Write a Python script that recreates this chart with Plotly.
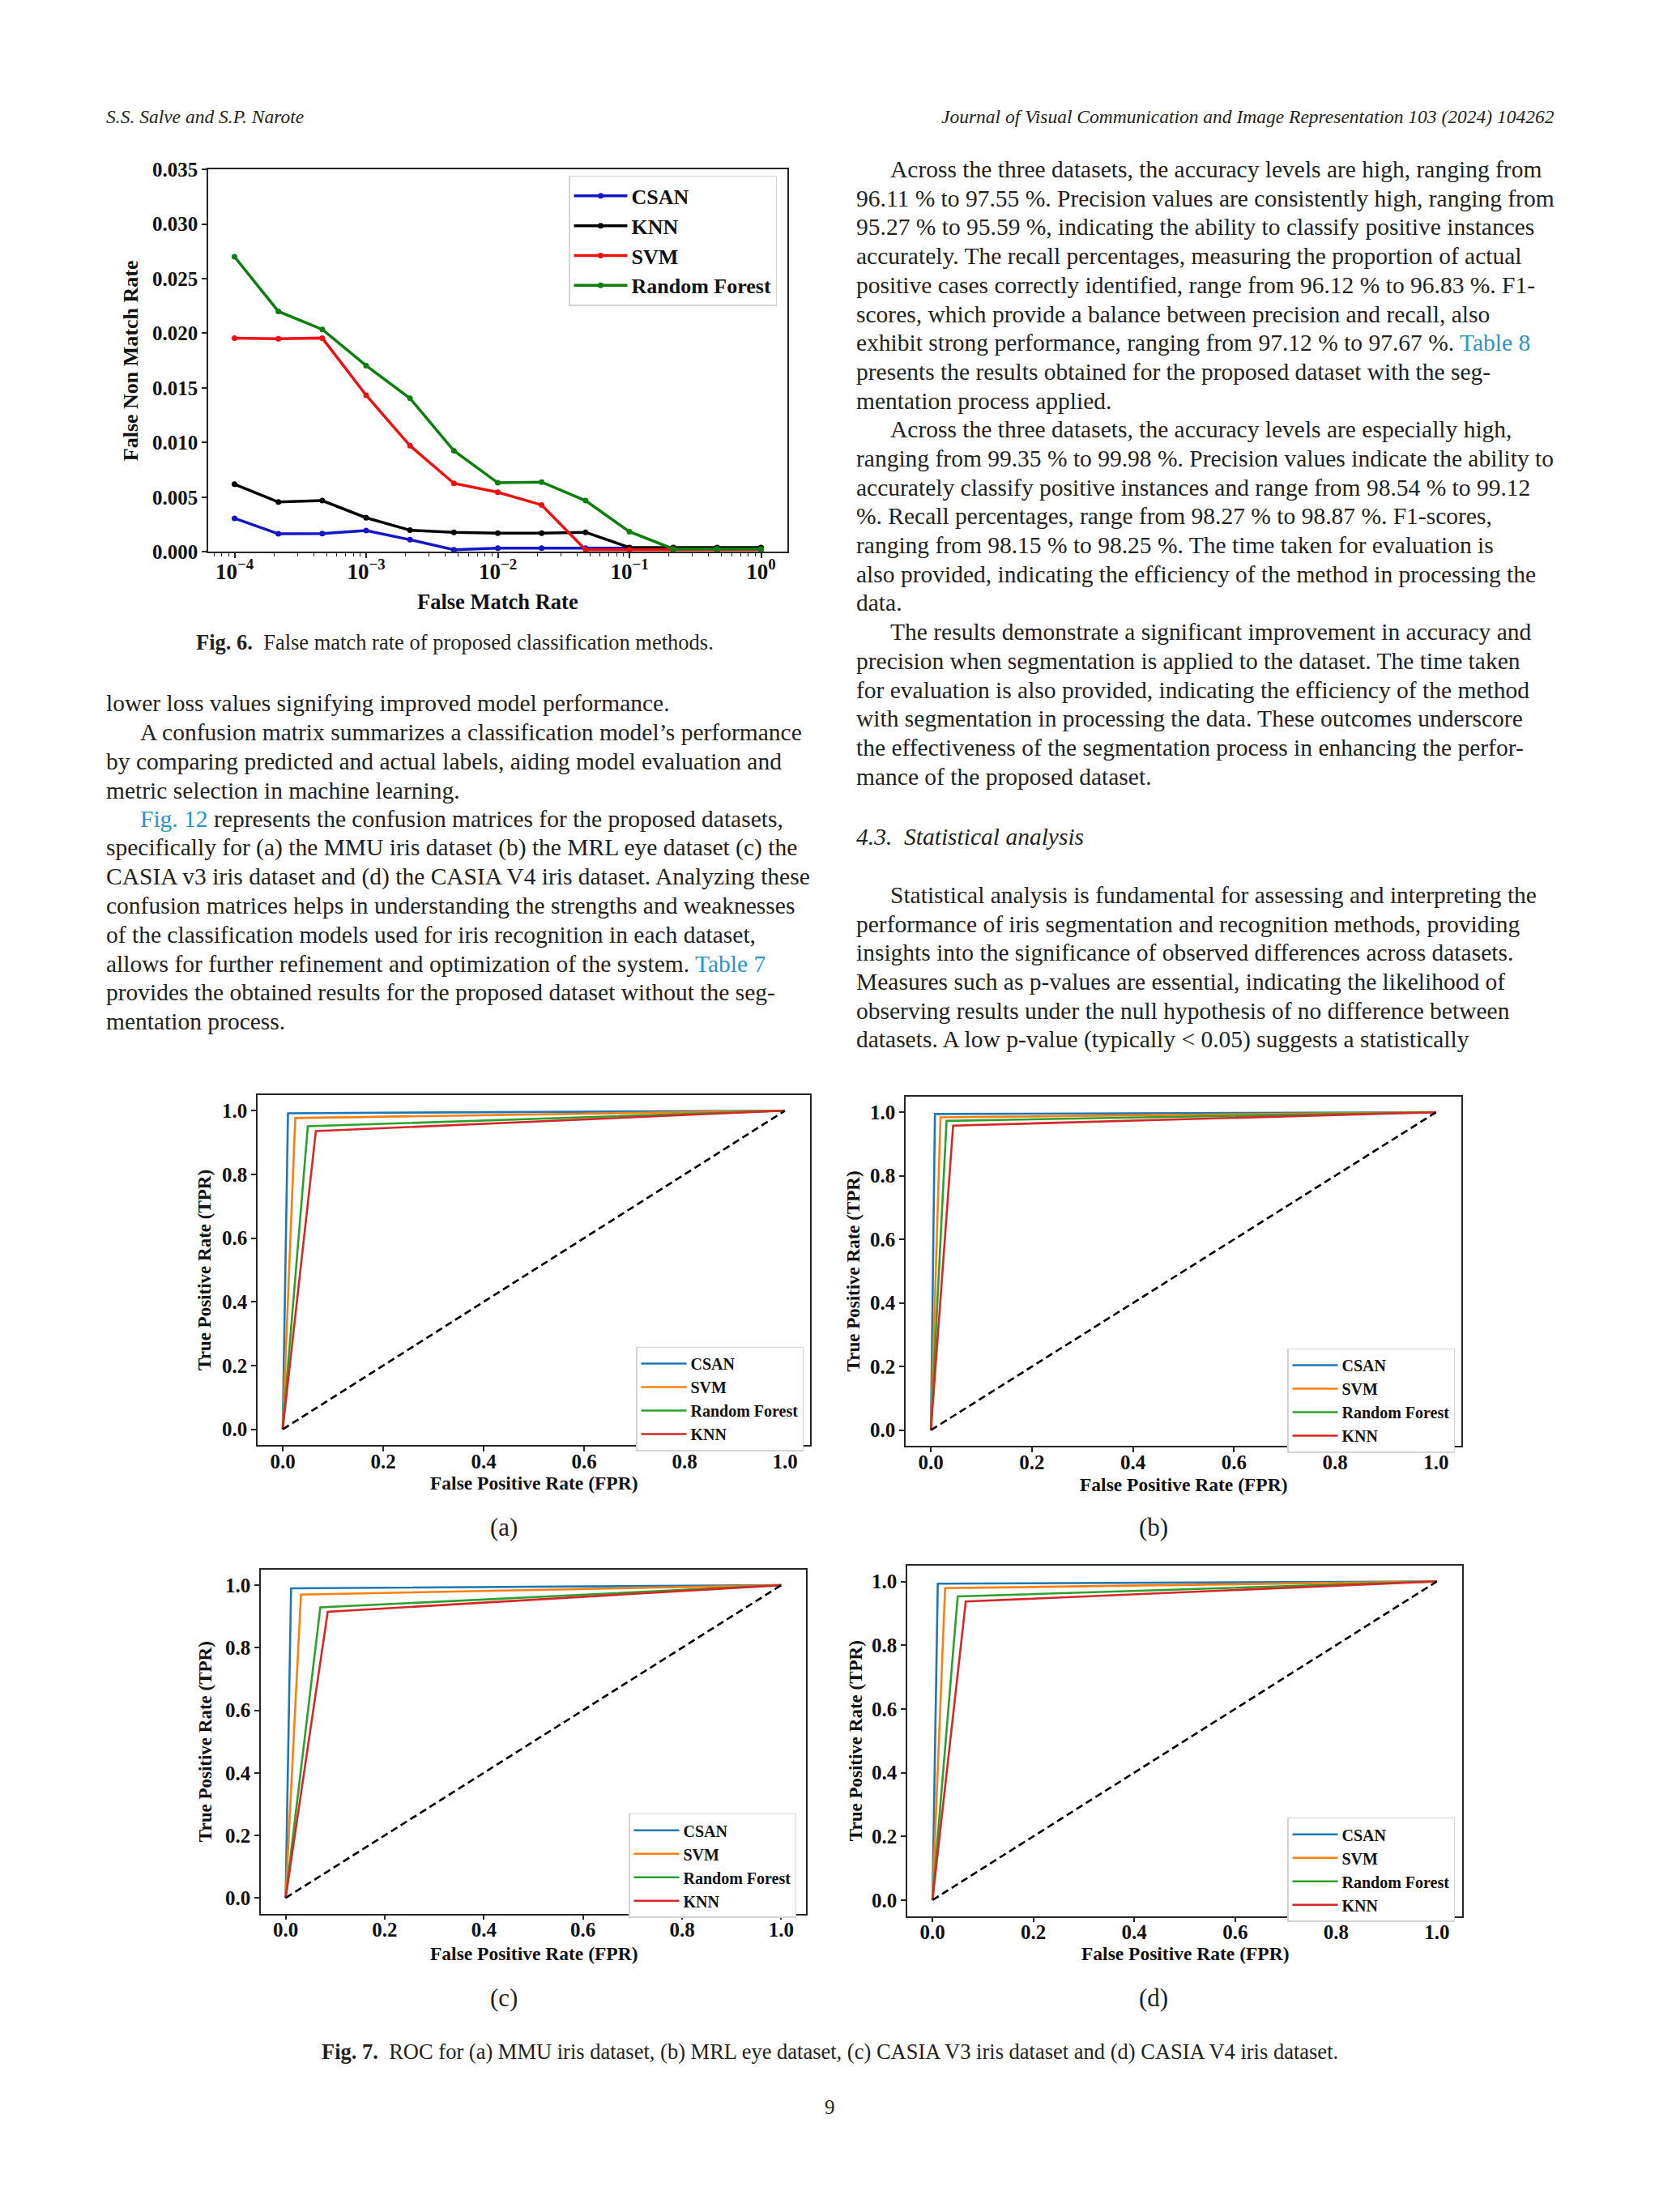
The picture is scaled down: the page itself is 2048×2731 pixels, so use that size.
import plotly.graph_objects as go

W, H = 2048, 2731

# ------------------------------------------------------------------ data
# Fig. 6 : DET-style curves (False Match Rate vs False Non Match Rate)
FMR = [1e-4, 2.154e-4, 4.642e-4, 1e-3, 2.154e-3, 4.642e-3, 1e-2,
       2.154e-2, 4.642e-2, 1e-1, 2.154e-1, 4.642e-1, 1.0]
FNMR_CSAN = [0.00307, 0.00165, 0.00168, 0.00195, 0.00111, 0.00020, 0.00033,
             0.00033, 0.00033, 0.00033, 0.00033, 0.00033, 0.00033]
FNMR_KNN = [0.00619, 0.00456, 0.00469, 0.00312, 0.00198, 0.00179, 0.00171,
            0.00171, 0.00179, 0.00040, 0.00040, 0.00040, 0.00040]
FNMR_SVM = [0.01956, 0.01950, 0.01956, 0.01433, 0.00971, 0.00627, 0.00545,
            0.00429, 0.00020, 0.00020, 0.00020, 0.00020, 0.00020]
FNMR_RF = [0.02700, 0.02200, 0.02035, 0.01704, 0.01405, 0.00925, 0.00632,
           0.00638, 0.00469, 0.00184, 0.00027, 0.00027, 0.00027]
DET_NAMES = ["CSAN", "KNN", "SVM", "Random Forest"]
DET_COLORS = ["#1414c8", "#000000", "#f01010", "#0a800a"]
FMR_TICKVALS = [1e-4, 1e-3, 1e-2, 1e-1, 1.0]
FMR_TICKTEXT = ["10<sup>\u22124</sup>", "10<sup>\u22123</sup>", "10<sup>\u22122</sup>",
                "10<sup>\u22121</sup>", "10<sup>0</sup>"]
FNMR_TICKVALS = [0.000, 0.005, 0.010, 0.015, 0.020, 0.025, 0.030, 0.035]

# Fig. 7 : ROC curves, one operating point per classifier
ROC_NAMES = ["CSAN", "SVM", "Random Forest", "KNN"]
ROC_COLORS = ["#1f77b4", "#ff7f0e", "#2ca02c", "#d62728"]
ROC_START = [0.0, 0.0]
ROC_END = [1.0, 1.0]
FPR_A = [0.0105, 0.025, 0.050, 0.066]
TPR_A = [0.992, 0.977, 0.951, 0.936]
FPR_B = [0.008, 0.019, 0.031, 0.044]
TPR_B = [0.9946, 0.984, 0.973, 0.958]
FPR_C = [0.011, 0.031, 0.070, 0.085]
TPR_C = [0.990, 0.970, 0.929, 0.915]
FPR_D = [0.0105, 0.025, 0.050, 0.066]
TPR_D = [0.993, 0.979, 0.953, 0.937]
DIAG = [0.0, 1.0]
ROC_TICKVALS = [0.0, 0.2, 0.4, 0.6, 0.8, 1.0]
ROC_TICKTEXT = ["0.0", "0.2", "0.4", "0.6", "0.8", "1.0"]
PANEL_LABELS = ["(a)", "(b)", "(c)", "(d)"]

# ------------------------------------------------------------------ helpers
SERIF = "Liberation Serif"
INK = "#231f20"
LINK = "#2a93c9"
AX = "#262626"
BODY = 29.5


def fx(x):
    return x / W


def fy(y):
    return 1 - y / H


fig = go.Figure()
annotations = []


def text(x, y, s, size=BODY, anchor="left", italic=False, bold=False, color=INK, angle=0):
    annotations.append(dict(
        x=fx(x), y=fy(y), xref="paper", yref="paper", text=s, showarrow=False,
        xanchor=anchor, yanchor="middle", textangle=angle,
        font=dict(family=SERIF, size=size, color=color,
                  style="italic" if italic else "normal",
                  weight="bold" if bold else "normal"),
    ))


def axis_common(size, standoff=0):
    return dict(showline=True, mirror=True, linecolor=AX, linewidth=1.6,
                ticks="outside", ticklen=6, tickwidth=1.5, tickcolor=AX,
                showgrid=False, zeroline=False, ticklabelstandoff=standoff,
                tickfont=dict(family=SERIF, size=size, color="#111", weight="bold"))


layout_axes = {}

# ---------------- Fig. 6 axes
x0, y0, x1, y1 = 257, 198, 972, 675
minor_vals = [m * 10.0 ** k for k in range(-5, 1) for m in range(2, 10)
              if 10 ** -4.2 <= m * 10.0 ** k <= 10 ** 0.2]
layout_axes["xaxis"] = dict(domain=[fx(x0), fx(x1)], anchor="y", type="log",
                            range=[-4.2, 0.2], tickmode="array",
                            tickvals=FMR_TICKVALS, ticktext=FMR_TICKTEXT,
                            minor=dict(tickmode="array", tickvals=minor_vals, ticks="outside",
                                       ticklen=4, tickwidth=1.2, tickcolor=AX),
                            **axis_common(27, standoff=-7))
layout_axes["yaxis"] = dict(domain=[fy(y1), fy(y0)], anchor="x", range=[0, 0.035],
                            tickmode="array", tickvals=FNMR_TICKVALS, tickformat=".3f",
                            **axis_common(25))

for name, vals, col in zip(DET_NAMES, [FNMR_CSAN, FNMR_KNN, FNMR_SVM, FNMR_RF], DET_COLORS):
    fig.add_trace(go.Scatter(x=FMR, y=vals, mode="lines+markers", name=name,
                             line=dict(color=col, width=3.5),
                             marker=dict(color=col, size=7),
                             xaxis="x", yaxis="y", legend="legend", legendgroup=name))

text((x0 + x1) / 2, 737, "False Match Rate", size=26.5, anchor="center", bold=True, color="#111")
text(161, (y0 + y1) / 2, "False Non Match Rate", size=26, anchor="center", bold=True,
     color="#111", angle=-90)

legends = {}
legends["legend"] = dict(x=fx(959), y=fy(206), xanchor="right", yanchor="top",
                         bgcolor="white", bordercolor="#d4d4d4", borderwidth=1.5,
                         font=dict(family=SERIF, size=26, color="#111", weight="bold"),
                         tracegroupgap=0, itemwidth=66)

# ---------------- Fig. 7 axes
panels = [
    # box (x0, y0, x1, y1), ylabel x, xlabel y, legend right, legend top, fpr, tpr, label center, label y
    ((318, 1352, 1000, 1789), 253, 1836, 992, 1666, FPR_A, TPR_A, 622, 1891),
    ((1118, 1354, 1804, 1790), 1053, 1838, 1796, 1668, FPR_B, TPR_B, 1424, 1891),
    ((322, 1944, 995, 2373), 253, 2423, 983, 2248, FPR_C, TPR_C, 622, 2478),
    ((1120, 1939, 1805, 2376), 1056, 2423, 1796, 2253, FPR_D, TPR_D, 1424, 2478),
]

for i, (bx, ylx, xly, lr, lt, fpr, tpr, lcx, lcy) in enumerate(panels):
    n = i + 2
    xa, ya = f"x{n}", f"y{n}"
    bx0, by0, bx1, by1 = bx
    layout_axes[f"xaxis{n}"] = dict(domain=[fx(bx0), fx(bx1)], anchor=ya, range=[-0.05, 1.05],
                                    tickmode="array", tickvals=ROC_TICKVALS, ticktext=ROC_TICKTEXT,
                                    **axis_common(25, standoff=-9))
    layout_axes[f"yaxis{n}"] = dict(domain=[fy(by1), fy(by0)], anchor=xa, range=[-0.05, 1.05],
                                    tickmode="array", tickvals=ROC_TICKVALS, ticktext=ROC_TICKTEXT,
                                    **axis_common(25))
    leg = f"legend{n}"
    for name, f, t, col in zip(ROC_NAMES, fpr, tpr, ROC_COLORS):
        fig.add_trace(go.Scatter(x=[ROC_START[0], f, ROC_END[0]], y=[ROC_START[1], t, ROC_END[1]],
                                 mode="lines", name=name, line=dict(color=col, width=2.6),
                                 xaxis=xa, yaxis=ya, legend=leg, legendgroup=f"{leg}{name}"))
    fig.add_trace(go.Scatter(x=DIAG, y=DIAG, mode="lines", showlegend=False,
                             line=dict(color="black", width=2.6, dash="9px,5px"),
                             xaxis=xa, yaxis=ya))
    legends[leg] = dict(x=fx(lr), y=fy(lt), xanchor="right", yanchor="top",
                        bgcolor="white", bordercolor="#d4d4d4", borderwidth=1.5,
                        font=dict(family=SERIF, size=20, color="#111", weight="bold"),
                        tracegroupgap=0, itemwidth=56)
    text((bx0 + bx1) / 2, xly, "False Positive Rate (FPR)", size=23.5, anchor="center",
         bold=True, color="#111")
    text(ylx, (by0 + by1) / 2, "True Positive Rate (TPR)", size=23, anchor="center",
         bold=True, color="#111", angle=-90)
    text(lcx, lcy, PANEL_LABELS[i], size=31, anchor="center")

# ------------------------------------------------------------------ page text
text(129, 132, "S.S. Salve and S.P. Narote", size=23.5, italic=True)
text(1921, 132, "Journal of Visual Communication and Image Representation 103 (2024) 104262",
     size=23.5, anchor="right", italic=True)

text(561, 788, "<b>Fig. 6.</b>  False match rate of proposed classification methods.", size=26.5,
     anchor="center")
text(1024, 2545, "<b>Fig. 7.</b>  ROC for (a) MMU iris dataset, (b) MRL eye dataset, (c) CASIA V3 "
     "iris dataset and (d) CASIA V4 iris dataset.", size=26.5, anchor="center")
text(1024, 2614, "9", size=25, anchor="center")

LS = 36.05
L_X, L_IND = 129, 171
R_X, R_IND = 1055, 1097


def link(s):
    return f"<span style='color:{LINK}'>{s}</span>"


left_lines = [
    (False, "lower loss values signifying improved model performance."),
    (True, "A confusion matrix summarizes a classification model\u2019s performance"),
    (False, "by comparing predicted and actual labels, aiding model evaluation and"),
    (False, "metric selection in machine learning."),
    (True, link("Fig. 12") + " represents the confusion matrices for the proposed datasets,"),
    (False, "specifically for (a) the MMU iris dataset (b) the MRL eye dataset (c) the"),
    (False, "CASIA v3 iris dataset and (d) the CASIA V4 iris dataset. Analyzing these"),
    (False, "confusion matrices helps in understanding the strengths and weaknesses"),
    (False, "of the classification models used for iris recognition in each dataset,"),
    (False, "allows for further refinement and optimization of the system. " + link("Table 7")),
    (False, "provides the obtained results for the proposed dataset without the seg-"),
    (False, "mentation process."),
]
for k, (ind, s) in enumerate(left_lines):
    text(L_IND if ind else L_X, 864 + k * LS, s)

right_lines = [
    (True, "Across the three datasets, the accuracy levels are high, ranging from"),
    (False, "96.11 % to 97.55 %. Precision values are consistently high, ranging from"),
    (False, "95.27 % to 95.59 %, indicating the ability to classify positive instances"),
    (False, "accurately. The recall percentages, measuring the proportion of actual"),
    (False, "positive cases correctly identified, range from 96.12 % to 96.83 %. F1-"),
    (False, "scores, which provide a balance between precision and recall, also"),
    (False, "exhibit strong performance, ranging from 97.12 % to 97.67 %. " + link("Table 8")),
    (False, "presents the results obtained for the proposed dataset with the seg-"),
    (False, "mentation process applied."),
    (True, "Across the three datasets, the accuracy levels are especially high,"),
    (False, "ranging from 99.35 % to 99.98 %. Precision values indicate the ability to"),
    (False, "accurately classify positive instances and range from 98.54 % to 99.12"),
    (False, "%. Recall percentages, range from 98.27 % to 98.87 %. F1-scores,"),
    (False, "ranging from 98.15 % to 98.25 %. The time taken for evaluation is"),
    (False, "also provided, indicating the efficiency of the method in processing the"),
    (False, "data."),
    (True, "The results demonstrate a significant improvement in accuracy and"),
    (False, "precision when segmentation is applied to the dataset. The time taken"),
    (False, "for evaluation is also provided, indicating the efficiency of the method"),
    (False, "with segmentation in processing the data. These outcomes underscore"),
    (False, "the effectiveness of the segmentation process in enhancing the perfor-"),
    (False, "mance of the proposed dataset."),
]
for k, (ind, s) in enumerate(right_lines):
    text(R_IND if ind else R_X, 198 + k * LS, s)

text(R_X, 1030, "4.3.  Statistical analysis", italic=True)

stat_lines = [
    (True, "Statistical analysis is fundamental for assessing and interpreting the"),
    (False, "performance of iris segmentation and recognition methods, providing"),
    (False, "insights into the significance of observed differences across datasets."),
    (False, "Measures such as p-values are essential, indicating the likelihood of"),
    (False, "observing results under the null hypothesis of no difference between"),
    (False, "datasets. A low p-value (typically &lt; 0.05) suggests a statistically"),
]
for k, (ind, s) in enumerate(stat_lines):
    text(R_IND if ind else R_X, 1103 + k * LS, s)

fig.update_layout(
    width=W, height=H, margin=dict(l=0, r=0, t=0, b=0),
    paper_bgcolor="white", plot_bgcolor="white",
    annotations=annotations, showlegend=True,
    **layout_axes, **legends,
)

fig.write_html("out.html", config={"displayModeBar": False},
               post_script="document.body.style.margin='0';document.body.style.overflow='hidden';")
